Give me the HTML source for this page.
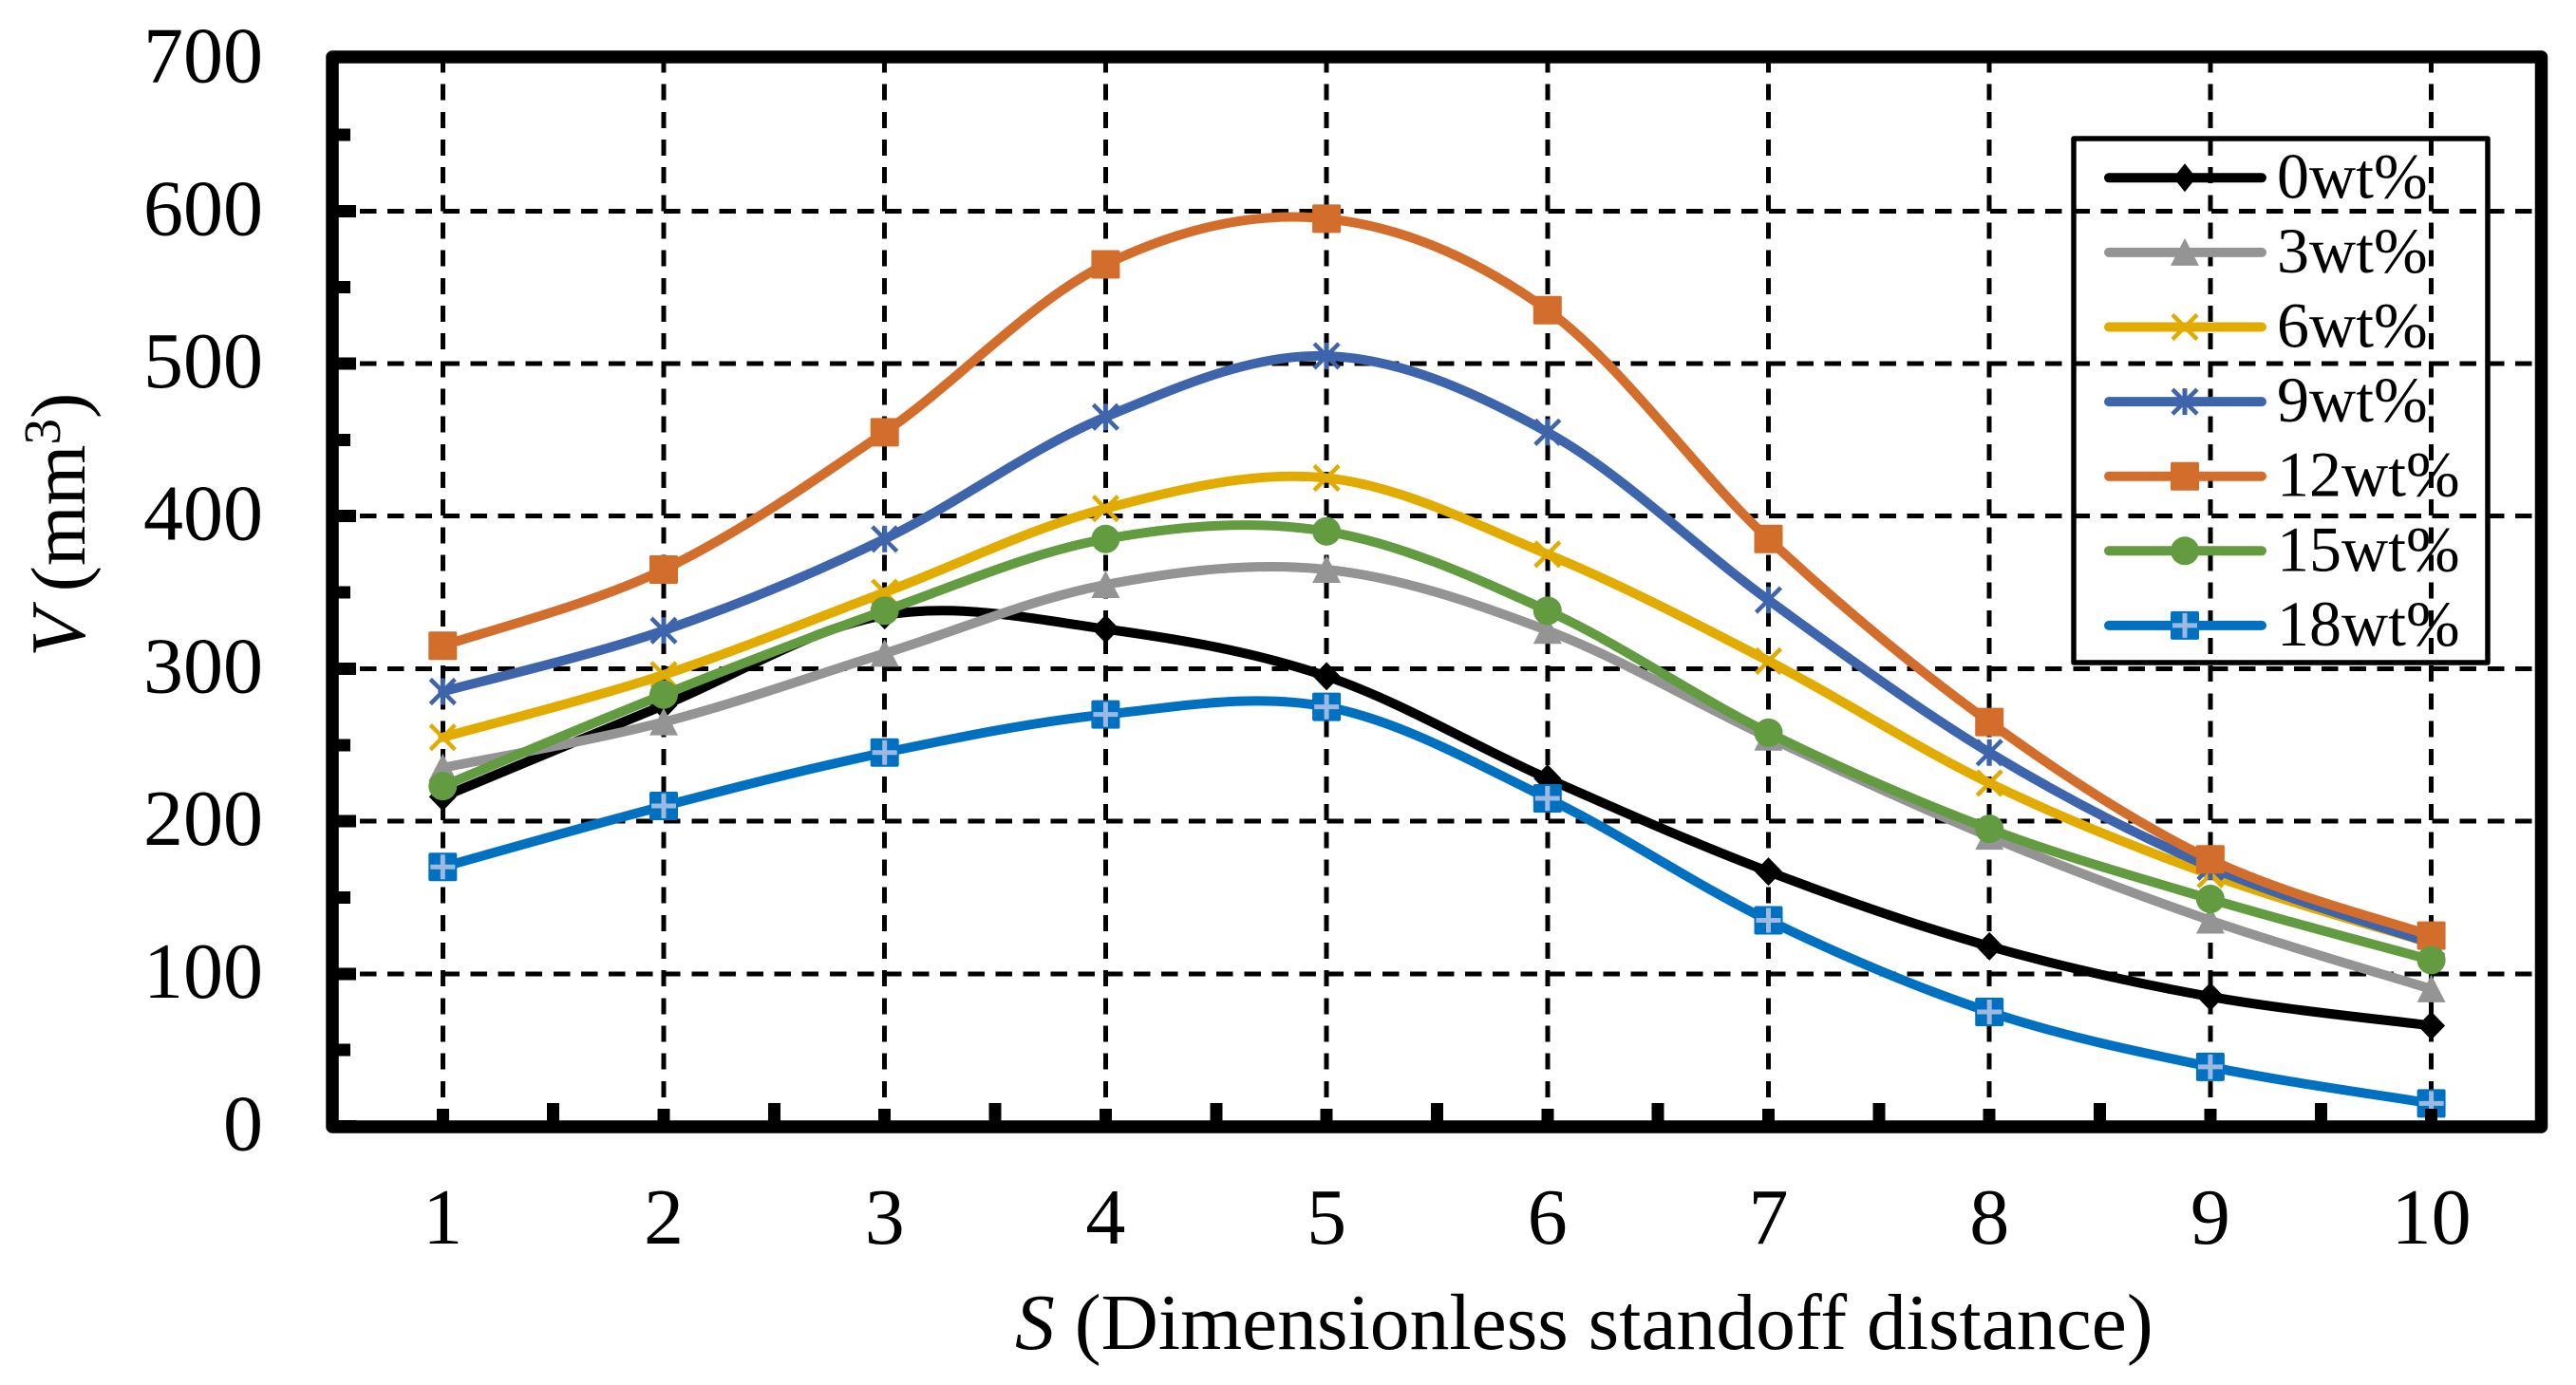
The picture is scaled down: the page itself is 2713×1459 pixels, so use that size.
<!DOCTYPE html>
<html lang="en">
<head>
<meta charset="utf-8">
<title>V versus S line chart</title>
<style>
html,body{margin:0;padding:0;background:#fff;}
svg{display:block;}
text{font-family:"Liberation Serif",serif;fill:#000;}
</style>
</head>
<body>
<svg id="chart" xmlns="http://www.w3.org/2000/svg" width="2713" height="1459" viewBox="0 0 2713 1459">
  <rect x="0" y="0" width="2713" height="1459" fill="#ffffff"/>
  <g id="grid" shape-rendering="crispEdges"></g>
  <g id="series"></g>
  <g id="ticks" shape-rendering="crispEdges"></g>
  <rect x="350" y="60" width="2326.5" height="1127" fill="none" stroke="#000" stroke-width="13.5" stroke-linejoin="round"/>
  <g id="labels" font-size="84"></g>
  <text x="1069" y="1421" font-size="83.6"><tspan font-style="italic">S</tspan> (Dimensionless standoff distance)</text>
  <text transform="translate(89 692) rotate(-90)" font-size="82"><tspan font-style="italic">V</tspan><tspan dx="-2"> (mm</tspan><tspan font-size="55" dy="-26">3</tspan><tspan dy="26">)</tspan></text>
  <g id="legend">
    <rect x="2184" y="146" width="436" height="552" fill="none" stroke="#000" stroke-width="5.5" stroke-linejoin="round"/>
  </g>
</svg>
<script>
const categories = [1, 2, 3, 4, 5, 6, 7, 8, 9, 10];
const yTickLabels = [0, 100, 200, 300, 400, 500, 600, 700];
const seriesNames = ["0wt%", "3wt%", "6wt%", "9wt%", "12wt%", "15wt%", "18wt%"];
const values0 = [216, 276, 335, 326, 295, 228, 167, 118, 85, 66];
const values3 = [235, 265, 310, 355, 365, 325, 255, 190, 135, 90];
const values6 = [255, 296, 350, 405, 425, 375, 305, 225, 165, 120];
const values9 = [285, 325, 385, 465, 505, 455, 345, 245, 170, 120];
const values12 = [315, 365, 455, 565, 595, 535, 385, 265, 175, 125];
const values15 = [223, 283, 338, 385, 390, 338, 258, 195, 149, 109];
const values18 = [170, 210, 245, 270, 275, 215, 135, 75, 39, 15];
const seriesValues = [values0, values3, values6, values9, values12, values15, values18];
const seriesColors = ["#000000", "#949494", "#E2AB00", "#3E64AB", "#D36D2C", "#629B40", "#0070C0"];
const seriesMarkers = ["diamond", "triangle", "cross", "star", "square", "circle", "plus"];

const NS = "http://www.w3.org/2000/svg";
function xAxis(c) { return 466.3 + (c - 1) * 232.7; }
function yAxis(v) { return 1186.5 - v * 1.607; }
function make(tag, attrs, parent) {
  const el = document.createElementNS(NS, tag);
  for (const k in attrs) el.setAttribute(k, attrs[k]);
  parent.appendChild(el);
  return el;
}
const grid = document.getElementById("grid");
const ticks = document.getElementById("ticks");
const labels = document.getElementById("labels");
const seriesG = document.getElementById("series");
const legend = document.getElementById("legend");

yTickLabels.forEach(function (v) {
  const y = yAxis(v);
  if (v > 0 && v < 700) {
    const g = make("line", {x1: 350, x2: 2676, y1: y, y2: y, stroke: "#000", "stroke-width": 5, "stroke-dasharray": "17.5 11.6"}, grid);
    
    
  }
  if (v < 700) {
    const t = make("rect", {x: 350, y: y - 6.5, width: 25, height: 13, fill: "#000"}, ticks);
    
    
    const m = make("rect", {x: 350, y: yAxis(v + 50) - 6.5, width: 19, height: 13, fill: "#000"}, ticks);
    
    
  }
  const lab = make("text", {x: 277, y: y + 25, "text-anchor": "end"}, labels);
  lab.textContent = v;
  
  
});

categories.forEach(function (c, i) {
  const x = xAxis(c);
  const g = make("line", {x1: x, x2: x, y1: 59.5, y2: 1159, stroke: "#000", "stroke-width": 5, "stroke-dasharray": "17 12.17"}, grid);
  
  
  const t = make("rect", {x: x - 6.5, y: 1168, width: 13, height: 20, fill: "#000"}, ticks);
  
  
  if (i < categories.length - 1) {
    const m = make("rect", {x: xAxis(c + 0.5) - 6.5, y: 1162, width: 13, height: 26, fill: "#000"}, ticks);
    
    
  }
  const lab = make("text", {x: x, y: 1310, "text-anchor": "middle"}, labels);
  lab.textContent = c;
  
  
});

function smoothPath(pts) {
  let d = "M" + pts[0][0] + " " + pts[0][1];
  for (let i = 0; i < pts.length - 1; i++) {
    const p0 = pts[Math.max(i - 1, 0)], p1 = pts[i], p2 = pts[i + 1], p3 = pts[Math.min(i + 2, pts.length - 1)];
    const c1x = p1[0] + (p2[0] - p0[0]) / 6, c1y = p1[1] + (p2[1] - p0[1]) / 6;
    const c2x = p2[0] - (p3[0] - p1[0]) / 6, c2y = p2[1] - (p3[1] - p1[1]) / 6;
    d += " C" + c1x + " " + c1y + " " + c2x + " " + c2y + " " + p2[0] + " " + p2[1];
  }
  return d;
}

function drawMarker(kind, x, y, color, parent, legendScale) {
  const g = make("g", {}, parent);
  
  
  const h = 15;
  if (kind === "diamond") {
    const w = legendScale ? 12 : 14.5;
    make("polygon", {points: (x - w) + "," + y + " " + x + "," + (y - h) + " " + (x + w) + "," + y + " " + x + "," + (y + h), fill: color}, g);
  } else if (kind === "triangle") {
    make("polygon", {points: (x - h) + "," + (y + 14) + " " + x + "," + (y - 15) + " " + (x + h) + "," + (y + 14), fill: color}, g);
  } else if (kind === "cross" || kind === "star") {
    const w = 13;
    make("path", {d: "M" + (x - w) + " " + (y - w) + "L" + (x + w) + " " + (y + w) + "M" + (x + w) + " " + (y - w) + "L" + (x - w) + " " + (y + w), stroke: color, "stroke-width": 4.5, fill: "none"}, g);
    if (kind === "star") {
      make("path", {d: "M" + x + " " + (y - 14) + "L" + x + " " + (y + 14), stroke: color, "stroke-width": 5, fill: "none"}, g);
    }
  } else if (kind === "square") {
    make("rect", {x: x - h, y: y - h, width: 30, height: 30, rx: 1.5, fill: color}, g);
  } else if (kind === "circle") {
    make("circle", {cx: x, cy: y, r: h, fill: color}, g);
  } else if (kind === "plus") {
    make("rect", {x: x - h, y: y - h, width: 30, height: 30, rx: 2, fill: color}, g);
    make("path", {d: "M" + (x - 13) + " " + y + "L" + (x + 13) + " " + y + "M" + x + " " + (y - 13) + "L" + x + " " + (y + 13), stroke: "#9DB9E0", "stroke-width": 5, fill: "none"}, g);
  }
}

seriesValues.forEach(function (vals, s) {
  const color = seriesColors[s];
  const pts = vals.map(function (v, i) { return [xAxis(categories[i]), yAxis(v)]; });
  const path = make("path", {d: smoothPath(pts), fill: "none", stroke: color, "stroke-width": 10, "stroke-linecap": "round", "stroke-linejoin": "round"}, seriesG);
  
  
  pts.forEach(function (p) {
    drawMarker(seriesMarkers[s], p[0], p[1], color, seriesG, false);
  });
});

seriesNames.forEach(function (name, s) {
  const y = 187.3 + s * 78.6;
  const entry = make("g", {}, legend);
  
  
  const l = make("line", {x1: 2221, x2: 2382, y1: y, y2: y, stroke: seriesColors[s], "stroke-width": 10, "stroke-linecap": "round"}, entry);
  
  
  drawMarker(seriesMarkers[s], 2301, y, seriesColors[s], entry, true);
  const t = make("text", {x: 2398, y: y + 21, "font-size": 68}, entry);
  t.textContent = name;
  
  
});
</script>
</body>
</html>
